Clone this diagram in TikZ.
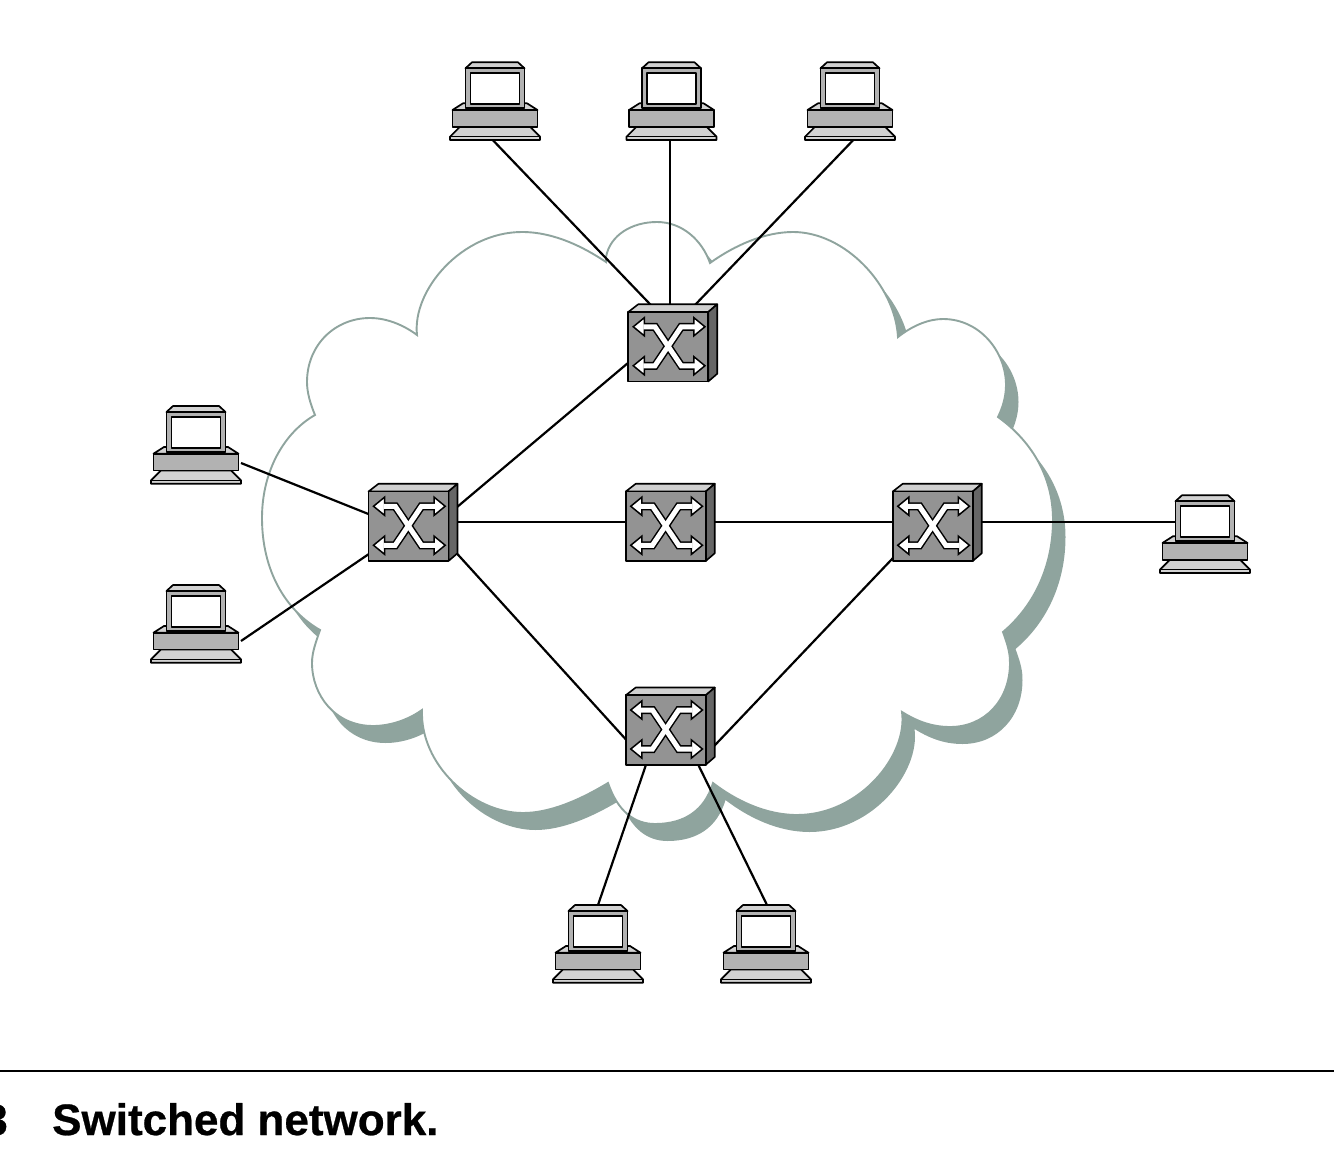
\documentclass[tikz,border=0pt]{standalone}
\usepackage{fontspec}
\setmainfont[BoldFeatures={FakeBold=0.6}]{Liberation Sans}
\definecolor{cloudc}{HTML}{8FA49E}
\definecolor{swfront}{HTML}{939393}
\definecolor{swtop}{HTML}{D0D0D0}
\definecolor{swside}{HTML}{666666}
\definecolor{pcbody}{HTML}{B2B2B2}
\definecolor{pclight}{HTML}{D2D2D2}
\def\cloudpath{(417,335) .. controls (412,290) and (462,232) .. (522,232)
 .. controls (555,232) and (585,248) .. (606,262)
 -- (606,257) .. controls (610,235) and (632,222) .. (657,222)
 .. controls (682,222) and (702,240) .. (710,263)
 .. controls (735,245) and (765,232) .. (793,232)
 .. controls (845,232) and (895,285) .. (898,337)
 .. controls (912,326) and (928,319) .. (943,319)
 .. controls (980,319) and (1006,352) .. (1006,385)
 .. controls (1006,396) and (1003,407) .. (998,417)
 .. controls (1030,440) and (1053,475) .. (1053,520)
 .. controls (1053,565) and (1035,605) .. (1003,632)
 .. controls (1009,648) and (1010,655) .. (1010,663)
 .. controls (1010,700) and (985,727) .. (950,727)
 .. controls (930,727) and (915,720) .. (902,712)
 .. controls (908,755) and (860,815) .. (797,815)
 .. controls (765,815) and (735,800) .. (713,783)
 .. controls (705,810) and (685,824) .. (655,824)
 .. controls (635,824) and (618,812) .. (608,783)
 .. controls (580,800) and (550,813) .. (523,813)
 .. controls (473,813) and (420,765) .. (422,710)
 .. controls (408,720) and (390,726) .. (373,726)
 .. controls (335,726) and (312,695) .. (312,663)
 .. controls (312,652) and (316,642) .. (320,630)
 .. controls (285,610) and (262,570) .. (262,518)
 .. controls (262,470) and (285,432) .. (315,415)
 .. controls (310,403) and (307,392) .. (307,382)
 .. controls (307,345) and (335,318) .. (370,318)
 .. controls (388,318) and (405,326) .. (417,335) -- cycle}
\tikzset{
 x=1pt,y=-1pt,
 swbox/.style={rectangle,minimum width=80pt,minimum height=69.5pt,inner sep=0pt,outer sep=0pt},
 pcbox/.style={rectangle,minimum width=90pt,minimum height=78pt,inner sep=0pt,outer sep=0pt},
 link/.style={black,line width=2.2pt},
 edge3d/.style={draw=black,line width=1.6pt,line join=round},
 pcline/.style={draw=black,line width=1.7pt,line join=round},
 shaftblack/.style={black,line width=8pt,line join=miter},
 shaftwhite/.style={white,line width=5pt,line join=miter},
 headshape/.style={fill=white,draw=black,line width=1.5pt,line join=miter},
 swpic/.pic={
  \path[edge3d,fill=swtop] (-40,-34.75) -- (-30,-42.5) -- (49,-42.5) -- (40,-34.75) -- cycle;
  \path[edge3d,fill=swside] (40,-34.75) -- (49,-42.5) -- (49,27) -- (40,34.75) -- cycle;
  \path[edge3d,fill=swfront] (-40,-34.75) rectangle (40,34.75);
  \draw[shaftblack] (-24,-20) -- (-13.3,-20) -- (13,19) -- (25.7,19);
  \draw[shaftblack] (25.7,-20) -- (13,-20) -- (-13.3,19) -- (-24,19);
  \path[headshape] (-35,-20) -- (-24,-29) -- (-24,-11) -- cycle;
  \path[headshape] (36.7,-20) -- (25.7,-29) -- (25.7,-11) -- cycle;
  \path[headshape] (-35,19) -- (-24,10) -- (-24,28) -- cycle;
  \path[headshape] (36.7,19) -- (25.7,10) -- (25.7,28) -- cycle;
  \draw[shaftwhite] (-25,-20) -- (-13.3,-20) -- (13,19) -- (26.7,19);
  \draw[shaftwhite] (26.7,-20) -- (13,-20) -- (-13.3,19) -- (-25,19);
 },
 pcpic/.pic={
  \path[pcline,fill=pclight] (-35,25.4) -- (35,25.4) -- (45,35.4) -- (45,38.7) -- (-45,38.7) -- (-45,35.4) -- cycle;
  \draw[black,line width=1.4pt] (-45,35.4) -- (45,35.4);
  \path[pcline,fill=pclight] (-42.5,8.7) -- (-32,2) -- (32,2) -- (42.5,8.7) -- cycle;
  \path[pcline,fill=pcbody] (-42.5,8.7) rectangle (42.5,25.4);
  \path[pcline,fill=pclight] (-29.5,-33) -- (-23,-39) -- (23,-39) -- (29.5,-33) -- cycle;
  \path[pcline,fill=pcbody] (-29.5,-33) rectangle (29.5,7);
  \path[pcline,fill=white] (-24.5,-28) rectangle (24.5,3);
 }
}
\begin{document}
\begin{tikzpicture}
\useasboundingbox (0,0) rectangle (1334,1172);
% cloud
\fill[cloudc,shift={(12.5,17)}] \cloudpath;
\path[draw=cloudc,line width=1.9pt,fill=white,line join=miter] \cloudpath;
% node positions
\node[pcbox] (p1) at (495,101.3) {};
\node[pcbox] (p2) at (671.5,101.3) {};
\node[pcbox] (p3) at (850,101.3) {};
\node[pcbox] (p4) at (196,445) {};
\node[pcbox] (p5) at (196,624) {};
\node[pcbox] (p6) at (1205,534.25) {};
\node[pcbox] (p7) at (598,944) {};
\node[pcbox] (p8) at (766,944) {};
\node[swbox] (s1) at (668.25,346.75) {};
\node[swbox] (s2) at (408.5,526.25) {};
\node[swbox] (s3) at (665.75,526.25) {};
\node[swbox] (s4) at (932.75,526.25) {};
\node[swbox] (s5) at (665.75,730) {};
% connectors
\draw[link] ([xshift=-2pt]p1.south) -- ([xshift=-10.7pt]s1.north);
\draw[link] ([xshift=-1.5pt]p2.south) -- ([xshift=1.75pt]s1.north);
\draw[link] ([xshift=3pt]p3.south) -- ([xshift=20pt]s1.north);
\draw[link] ([yshift=-18pt]p4.east) -- ([yshift=12.2pt]s2.west);
\draw[link] ([yshift=-17pt]p5.east) -- ([yshift=-28pt]s2.west);
\draw[link] ([yshift=12pt]s2.east) -- ([yshift=-16pt]s1.west);
\draw[link] ([yshift=4pt]s2.east) -- ([yshift=4pt]s3.west);
\draw[link] ([yshift=4pt]s3.east) -- ([yshift=4pt]s4.west);
\draw[link] ([yshift=4pt]s4.east) -- ([xshift=16pt,yshift=12pt]p6.west);
\draw[link] ([yshift=-18pt]s2.east) -- ([yshift=-9.3pt]s5.west);
\draw[link] ([yshift=-32pt]s4.west) -- ([yshift=-24.8pt]s5.east);
\draw[link] ([xshift=-19.75pt]s5.south) -- (p7.north);
\draw[link] ([xshift=32.5pt]s5.south) -- ([xshift=1pt]p8.north);
% equipment
\foreach \n in {p1,p2,p3,p4,p5,p6,p7,p8} \pic at (\n.center) {pcpic};
\foreach \n in {s1,s2,s3,s4,s5} \pic at (\n.center) {swpic};
% caption
\coordinate (ruleL) at (0,1071);
\coordinate (ruleR) at (1334,1071);
\draw[black,line width=1.4pt] (ruleL) -- (ruleR);
\node[anchor=base west,inner sep=0pt,font=\fontsize{44}{44}\selectfont\bfseries] (cap) at (52,1135) {Switched network.};
\node[anchor=base east,inner sep=0pt,font=\fontsize{44}{44}\selectfont\bfseries] (capn) at (8,1135) {3};
\end{tikzpicture}
\end{document}
